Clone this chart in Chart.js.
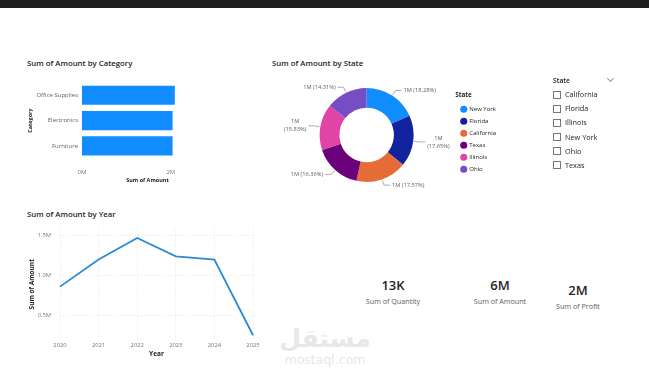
<!DOCTYPE html>
<html>
<head>
<meta charset="utf-8">
<script src="https://cdn.jsdelivr.net/npm/chart.js@4.4.1/dist/chart.umd.min.js"></script>
<style>
  body { margin: 0; background: #fff; font-family: "Open Sans", sans-serif; color: #252423; }
  #page { position: relative; width: 649px; height: 375px; overflow: hidden; background: #fff; }
  .topbar { position: absolute; left: 0; top: 0; width: 649px; height: 8px; background: #1f1f1f; }
  .title { position: absolute; font-size: 7.8px; font-weight: 600; color: #252423; white-space: nowrap; }
  .box { position: absolute; }
  .slicer { position: absolute; left: 553px; top: 76px; width: 62px; font-size: 7.3px; color: #252423; will-change: transform; background: #fff; }
  .slicer .head { font-weight: 600; font-size: 6.8px; height: 11px; position: relative; }
  .slicer .chev { position: absolute; right: 2px; top: 0px; width: 4px; height: 4px; border-right: 1px solid #999; border-bottom: 1px solid #999; transform: rotate(45deg); }
  .slicer .item { height: 14.2px; line-height: 14.2px; position: relative; padding-left: 12px; white-space: nowrap; color: #252423; }
  .slicer .item::before { content: ""; position: absolute; left: 0; top: 3.5px; width: 6px; height: 6px; border: 1px solid #777; }
  .kpi { position: absolute; text-align: center; width: 90px; }
  .kpi .v { font-size: 13px; font-weight: 600; color: #252423; line-height: 21px; }
  .kpi .l { font-size: 7.2px; color: #605e5c; line-height: 10px; }
  .wm { position: absolute; left: 270px; top: 324px; width: 110px; text-align: center; color: #e8e8e8; }
  .wm .ar { font-family: "DejaVu Sans", sans-serif; font-weight: bold; font-size: 25px; line-height: 30px; }
  .wm .en { font-family: "DejaVu Sans", sans-serif; font-size: 12.5px; line-height: 12px; }
</style>
</head>
<body>
<div id="page">
  <div class="topbar"></div>

  <div class="title" style="left:27px;top:58px;">Sum of Amount by Category</div>
  <div class="box" style="left:20px;top:75px;"><canvas id="barChart" width="210" height="115"></canvas></div>

  <div class="title" style="left:272px;top:58px;">Sum of Amount by State</div>
  <div class="box" style="left:270px;top:74px;"><canvas id="pieChart" width="252" height="122"></canvas></div>

  <div class="slicer">
    <div class="head">State<span class="chev"></span></div>
    <div id="slicerItems"></div>
  </div>

  <div class="title" style="left:27px;top:209px;">Sum of Amount by Year</div>
  <div class="box" style="left:20px;top:216px;"><canvas id="lineChart" width="245" height="146"></canvas></div>

  <div class="kpi" style="left:348px;top:275px;"><div class="v">13K</div><div class="l">Sum of Quantity</div></div>
  <div class="kpi" style="left:455px;top:275px;"><div class="v">6M</div><div class="l">Sum of Amount</div></div>
  <div class="kpi" style="left:533px;top:280px;"><div class="v">2M</div><div class="l">Sum of Profit</div></div>

  <div class="wm"><div class="ar">مستقل</div><div class="en">mostaql.com</div></div>
</div>

<script>
var categories = ['Office Supplies', 'Electronics', 'Furniture'];
var categoryAmounts = [2.09, 2.04, 2.04];

var states = ['New York', 'Florida', 'California', 'Texas', 'Illinois', 'Ohio'];
var statePercents = [18.28, 17.65, 17.57, 16.36, 15.83, 14.31];
var stateAmounts = [1.097, 1.059, 1.054, 0.982, 0.950, 0.859];
var stateColors = ['#118DFF', '#12239E', '#E66C37', '#6B007B', '#E044A7', '#744EC2'];

var slicerStates = ['California', 'Florida', 'Illinois', 'New York', 'Ohio', 'Texas'];

var years = ['2020', '2021', '2022', '2023', '2024', '2025'];
var yearAmounts = [0.86, 1.20, 1.47, 1.24, 1.20, 0.25];
var yearTicks = [0.5, 1.0, 1.5];

var FONT = '"Open Sans", sans-serif';
Chart.defaults.font.family = FONT;
Chart.defaults.color = '#605e5c';
Chart.defaults.animation = false;

// slicer
var holder = document.getElementById('slicerItems');
slicerStates.forEach(function (s) {
    var d = document.createElement('div');
    d.className = 'item';
    d.textContent = s;
    holder.appendChild(d);
});

// bar chart
new Chart(document.getElementById('barChart'), {
    type: 'bar',
    data: {
        labels: categories,
        datasets: [{ data: categoryAmounts, backgroundColor: '#118DFF', categoryPercentage: 1, barPercentage: 0.76 }]
    },
    options: {
        responsive: false,
        indexAxis: 'y',
        layout: { padding: { top: 4, right: 17 } },
        plugins: { legend: { display: false }, tooltip: { enabled: false } },
        scales: {
            x: {
                min: 0, max: 2.95,
                grid: { display: false, drawTicks: false }, border: { display: false },
                afterBuildTicks: function (s) { s.ticks = [{ value: 0 }, { value: 2 }]; },
                afterFit: function (s) { s.height = 31.5; },
                ticks: { padding: 10, font: { size: 6 }, color: '#777', callback: function (v) { return v + 'M'; } },
                title: { display: true, text: 'Sum of Amount', font: { size: 5.5, weight: 'bold' }, color: '#252423', padding: { top: 0, bottom: 6 } }
            },
            y: {
                grid: { display: false, drawTicks: false }, border: { display: false },
                afterFit: function (s) { s.width = 62; },
                ticks: { padding: 4, font: { size: 6 }, color: '#605e5c' },
                title: { display: true, text: 'Category', font: { size: 5.5, weight: 'bold' }, color: '#252423', padding: { top: 7, bottom: 0 } }
            }
        }
    }
});

// donut labels with leader lines
var leaderLabels = {
    id: 'leaderLabels',
    afterDatasetsDraw: function (chart) {
        var ctx = chart.ctx;
        var meta = chart.getDatasetMeta(0);
        ctx.save();
        ctx.font = '5.7px ' + FONT;
        ctx.fillStyle = '#605e5c';
        ctx.strokeStyle = '#999';
        ctx.lineWidth = 0.8;
        meta.data.forEach(function (arc, i) {
            var mid = (arc.startAngle + arc.endAngle) / 2;
            var r = arc.outerRadius;
            var cx = arc.x, cy = arc.y;
            var c = Math.cos(mid), s = Math.sin(mid);
            var x0 = cx + c * (r + 1), y0 = cy + s * (r + 1);
            var x1 = cx + c * (r + 6), y1 = cy + s * (r + 6);
            var dir = c >= 0 ? 1 : -1;
            var x2 = x1 + dir * 6;
            ctx.beginPath();
            ctx.moveTo(x0, y0); ctx.lineTo(x1, y1); ctx.lineTo(x2, y1);
            ctx.stroke();
            ctx.textAlign = dir > 0 ? 'left' : 'right';
            ctx.textBaseline = 'middle';
            var val = Math.round(stateAmounts[i]) + 'M';
            var pct = '(' + statePercents[i].toFixed(2) + '%)';
            var tx = x2 + dir * 2;
            if (Math.abs(c) > 0.9) {
                ctx.textAlign = 'center';
                var w = ctx.measureText(pct).width;
                var ccx = tx + dir * w / 2;
                ctx.fillText(val, ccx, y1 - 4);
                ctx.fillText(pct, ccx, y1 + 4);
            } else {
                ctx.fillText(val + ' ' + pct, tx, y1);
            }
        });
        ctx.restore();
    }
};

new Chart(document.getElementById('pieChart'), {
    type: 'doughnut',
    data: {
        labels: states,
        datasets: [{ data: stateAmounts, backgroundColor: stateColors, borderWidth: 0 }]
    },
    options: {
        responsive: false,
        radius: 47,
        cutout: '58%',
        layout: { padding: { left: 8, right: 16 } },
        plugins: {
            tooltip: { enabled: false },
            legend: {
                position: 'right',
                align: 'center',
                title: { display: true, position: 'start', text: 'State', color: '#252423', font: { size: 6.3, weight: 'bold' }, padding: { top: 0, bottom: 1 } },
                labels: { usePointStyle: true, pointStyle: 'circle', boxWidth: 5, boxHeight: 5, padding: 6, color: '#252423', font: { size: 6 } }
            }
        }
    },
    plugins: [leaderLabels]
});

// line chart
new Chart(document.getElementById('lineChart'), {
    type: 'line',
    data: {
        labels: years,
        datasets: [{ data: yearAmounts, borderColor: '#2a8ad6', borderWidth: 1.8, pointRadius: 0, tension: 0, fill: false }]
    },
    options: {
        responsive: false,
        layout: { padding: { top: 6, right: 12 } },
        plugins: { legend: { display: false }, tooltip: { enabled: false } },
        scales: {
            x: {
                offset: false,
                grid: { color: '#e6e6e6', drawTicks: false },
                border: { display: false, dash: [1, 2] },
                afterFit: function (s) { s.height = 22; },
                ticks: { padding: 2, font: { size: 5.8 }, color: '#777', maxRotation: 0 },
                title: { display: true, text: 'Year', font: { size: 6.5, weight: 'bold' }, color: '#252423', padding: { top: 0, bottom: 4 } }
            },
            y: {
                min: 0.19, max: 1.59,
                afterBuildTicks: function (s) { s.ticks = yearTicks.map(function (v) { return { value: v }; }); },
                grid: { color: '#e6e6e6', drawTicks: false },
                border: { display: false, dash: [1, 2] },
                afterFit: function (s) { s.width = 40; },
                ticks: { padding: 9, font: { size: 5.8 }, color: '#777', callback: function (v) { return v.toFixed(1) + 'M'; } },
                title: { display: true, text: 'Sum of Amount', font: { size: 6.5, weight: 'bold' }, color: '#252423', padding: { top: 8, bottom: 0 } }
            }
        }
    }
});
</script>
</body>
</html>
